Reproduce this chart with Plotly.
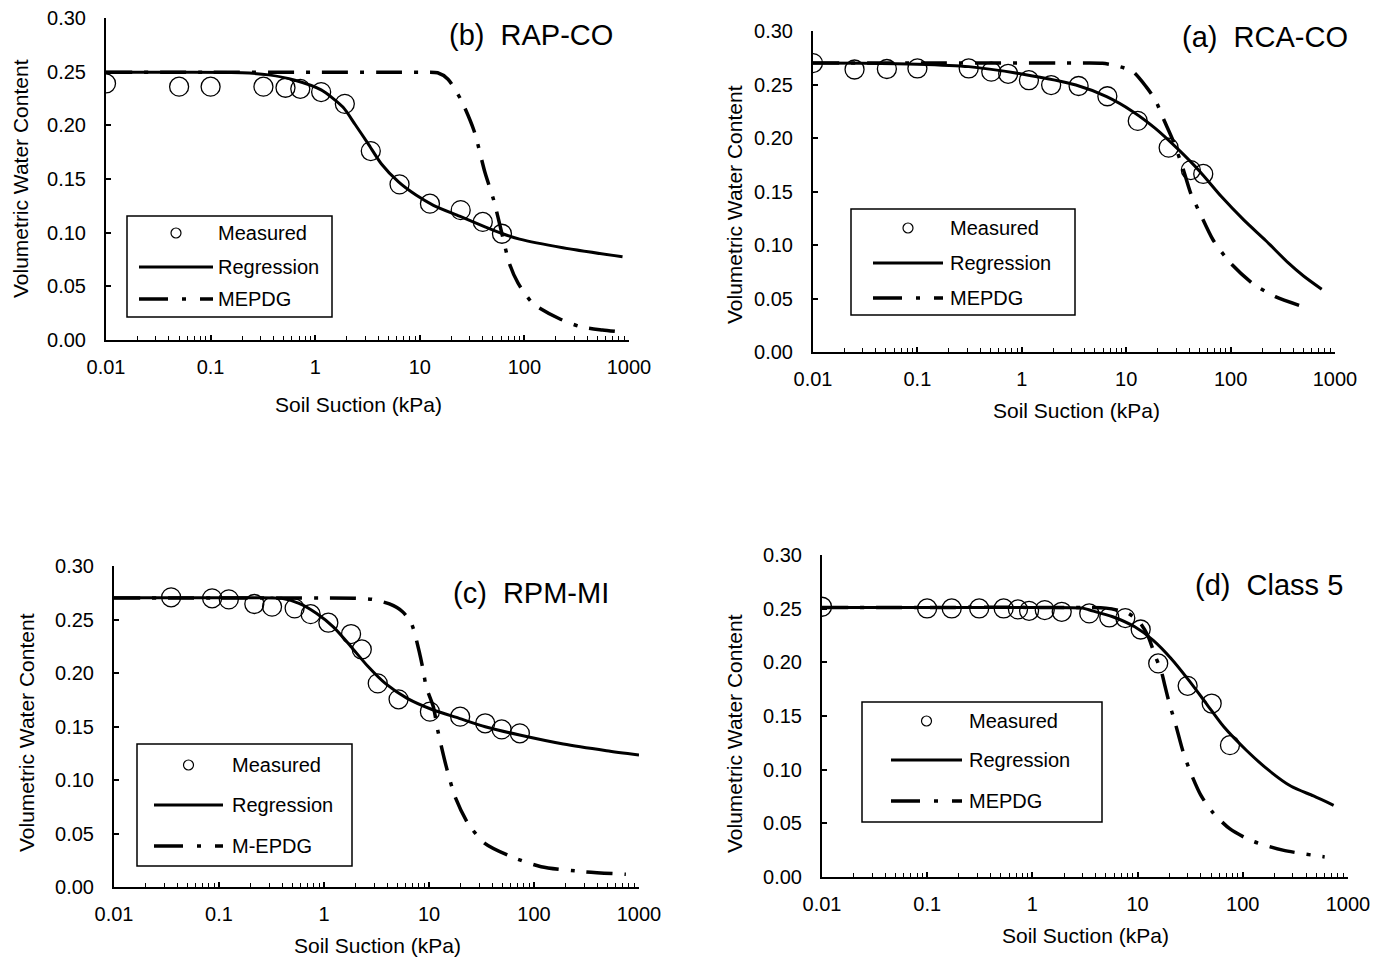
import plotly.graph_objects as go

W, H = 1387, 963
FONT = "Liberation Sans, Arial, sans-serif"

# ---------------- (a) RCA-CO ----------------
a_meas_x = [0.01, 0.025, 0.051, 0.10, 0.31, 0.51, 0.74, 1.17, 1.91, 3.5, 6.6, 12.9, 25.5, 41.6, 54.7]
a_meas_y = [0.270, 0.264, 0.2645, 0.265, 0.265, 0.262, 0.260, 0.254, 0.2495, 0.2486, 0.239, 0.216, 0.191, 0.170, 0.1664]
a_reg_x = [0.01, 0.03, 0.1, 0.31, 1.0, 3.3, 6.5, 11.6, 19, 31, 51, 82, 135, 218, 355, 500, 746]
a_reg_y = [0.270, 0.2698, 0.269, 0.2667, 0.2598, 0.2495, 0.2386, 0.2246, 0.209, 0.190, 0.1685, 0.145, 0.123, 0.104, 0.0835, 0.071, 0.0586]
a_mep_x = [0.01, 0.1, 1, 3, 5.9, 8.7, 11.6, 15.5, 19, 23, 28, 34.6, 41.6, 51, 68, 100, 163, 268, 556]
a_mep_y = [0.270, 0.270, 0.270, 0.270, 0.2698, 0.2667, 0.262, 0.248, 0.2355, 0.2168, 0.198, 0.173, 0.148, 0.1296, 0.1047, 0.083, 0.064, 0.0517, 0.0408]

# ---------------- (b) RAP-CO ----------------
b_meas_x = [0.01, 0.05, 0.1, 0.32, 0.52, 0.72, 1.14, 1.92, 3.4, 6.4, 12.5, 24.6, 40, 61]
b_meas_y = [0.239, 0.236, 0.236, 0.236, 0.235, 0.234, 0.231, 0.220, 0.176, 0.145, 0.127, 0.121, 0.110, 0.099]
b_reg_x = [0.01, 0.05, 0.2, 0.36, 0.64, 1.14, 1.84, 2.4, 3.2, 4.3, 6.3, 9.2, 13.5, 24, 42, 62, 90, 233, 867]
b_reg_y = [0.2495, 0.2494, 0.249, 0.247, 0.242, 0.233, 0.217, 0.201, 0.183, 0.164, 0.147, 0.135, 0.1255, 0.1153, 0.1054, 0.099, 0.094, 0.086, 0.0775]
b_mep_x = [0.01, 0.1, 1, 5, 10, 14.8, 18.6, 25, 33, 42, 51, 61, 72, 87, 121, 214, 344, 557, 740]
b_mep_y = [0.2495, 0.2495, 0.2495, 0.2495, 0.2494, 0.249, 0.243, 0.223, 0.195, 0.156, 0.130, 0.099, 0.071, 0.053, 0.034, 0.020, 0.0124, 0.0093, 0.0080]

# ---------------- (c) RPM-MI ----------------
c_meas_x = [0.035, 0.086, 0.124, 0.217, 0.32, 0.525, 0.746, 1.10, 1.81, 2.29, 3.25, 5.13, 10.2, 19.8, 34.3, 49.2, 73.3]
c_meas_y = [0.2707, 0.2698, 0.2688, 0.2645, 0.262, 0.2604, 0.255, 0.247, 0.2364, 0.222, 0.1903, 0.1754, 0.1639, 0.1592, 0.153, 0.1473, 0.1436]
c_reg_x = [0.01, 0.05, 0.15, 0.395, 0.578, 0.845, 1.24, 1.81, 2.63, 3.86, 6.2, 11, 19.4, 34.3, 73, 190, 490, 1000]
c_reg_y = [0.2704, 0.2704, 0.2703, 0.2698, 0.265, 0.2558, 0.2427, 0.2246, 0.206, 0.190, 0.1763, 0.1654, 0.1576, 0.1498, 0.142, 0.1336, 0.1274, 0.1234]
c_mep_x = [0.01, 0.1, 0.5, 1.0, 1.99, 2.9, 4.2, 5.6, 6.8, 8.2, 8.9, 9.4, 11, 12.1, 14.6, 17.7, 23.5, 34, 61, 117, 300, 750]
c_mep_y = [0.270, 0.270, 0.270, 0.270, 0.2698, 0.2688, 0.2645, 0.2573, 0.2464, 0.217, 0.200, 0.187, 0.1685, 0.1467, 0.1125, 0.0844, 0.0595, 0.0408, 0.0283, 0.019, 0.0143, 0.0118]

# ---------------- (d) Class 5 ----------------
d_meas_x = [0.01, 0.0998, 0.171, 0.312, 0.533, 0.729, 0.93, 1.31, 1.90, 3.47, 5.38, 7.64, 10.7, 15.7, 29.9, 50.6, 75.5]
d_meas_y = [0.2518, 0.2502, 0.2502, 0.2502, 0.2502, 0.2493, 0.248, 0.2487, 0.2471, 0.2456, 0.2418, 0.2412, 0.2306, 0.199, 0.1781, 0.1616, 0.1228]
d_reg_x = [0.01, 0.1, 1.0, 3.0, 3.5, 5.8, 9.4, 14, 20.8, 30.6, 45, 66, 108, 176, 288, 470, 730]
d_reg_y = [0.2512, 0.2512, 0.2511, 0.2505, 0.2487, 0.2425, 0.2331, 0.2207, 0.2036, 0.1834, 0.1616, 0.1399, 0.1181, 0.0995, 0.0845, 0.0755, 0.0668]
d_mep_x = [0.01, 0.1, 1, 3, 5, 8, 10.5, 12.5, 14, 15, 16, 17, 18, 20, 23, 27, 32, 40, 52, 75, 120, 240, 600]
d_mep_y = [0.2512, 0.2512, 0.2512, 0.2511, 0.2505, 0.246, 0.237, 0.225, 0.212, 0.204, 0.197, 0.190, 0.180, 0.162, 0.142, 0.117, 0.097, 0.076, 0.060, 0.045, 0.034, 0.025, 0.0187]

x_tick_vals = [0.01, 0.1, 1, 10, 100, 1000]
x_tick_text = ["0.01", "0.1", "1", "10", "100", "1000"]
x_minor_vals = [k * 10.0 ** e for e in range(-2, 3) for k in range(2, 10)]
y_tick_vals = [0.00, 0.05, 0.10, 0.15, 0.20, 0.25, 0.30]

MEP_DASH = "26px,12px,4px,12px"


def px_x(p):
    return p / W


def px_y(p):
    return 1 - p / H


# plot-area boxes in pixels: left, right, top(0.30), bottom(0.00)
panels = [
    dict(name="a", box=(813, 1335, 31, 352), title="(a)\u00a0 RCA-CO", title_xy=(1265, 37),
         mx=a_meas_x, my=a_meas_y, rx=a_reg_x, ry=a_reg_y, ex=a_mep_x, ey=a_mep_y,
         mep_name="MEPDG", ytitle_xy=(734, 205), xtitle_xy=(1076, 411),
         leg_box=(851, 1075, 209, 315), leg_rows=(228, 263, 298), leg_sample=(873, 943), leg_text=948),
    dict(name="b", box=(106, 629, 18, 340), title="(b)\u00a0 RAP-CO", title_xy=(531, 35),
         mx=b_meas_x, my=b_meas_y, rx=b_reg_x, ry=b_reg_y, ex=b_mep_x, ey=b_mep_y,
         mep_name="MEPDG", ytitle_xy=(20, 179), xtitle_xy=(358, 404),
         leg_box=(127, 332, 216, 317), leg_rows=(233, 267, 299), leg_sample=(139, 213), leg_text=216),
    dict(name="c", box=(114, 639, 566, 887), title="(c)\u00a0 RPM-MI", title_xy=(531, 593),
         mx=c_meas_x, my=c_meas_y, rx=c_reg_x, ry=c_reg_y, ex=c_mep_x, ey=c_mep_y,
         mep_name="M-EPDG", ytitle_xy=(26, 733), xtitle_xy=(377, 945),
         leg_box=(137, 352, 744, 866), leg_rows=(765, 805, 846), leg_sample=(154, 223), leg_text=230),
    dict(name="d", box=(822, 1348, 555, 877), title="(d)\u00a0 Class 5", title_xy=(1269, 585),
         mx=d_meas_x, my=d_meas_y, rx=d_reg_x, ry=d_reg_y, ex=d_mep_x, ey=d_mep_y,
         mep_name="MEPDG", ytitle_xy=(734, 734), xtitle_xy=(1085, 935),
         leg_box=(862, 1102, 702, 822), leg_rows=(721, 760, 801), leg_sample=(891, 962), leg_text=967),
]

fig = go.Figure()
layout = dict(
    width=W, height=H, autosize=False,
    margin=dict(l=0, r=0, t=0, b=0, pad=0, autoexpand=False),
    paper_bgcolor="white", plot_bgcolor="white",
    showlegend=False,
    font=dict(family=FONT, size=20, color="black"),
)
annotations = []
shapes = []

for i, p in enumerate(panels, start=1):
    sfx = "" if i == 1 else str(i)
    xref, yref = "x" + sfx, "y" + sfx
    left, right, top, bottom = p["box"]

    layout["xaxis" + sfx] = dict(
        type="log", range=[-2, 3], domain=[px_x(left), px_x(right)],
        anchor=yref, showline=True, linecolor="black", linewidth=2,
        showgrid=False, zeroline=False, automargin=False,
        tickmode="array", tickvals=x_tick_vals, ticktext=x_tick_text,
        ticks="inside", ticklen=5, tickwidth=1.5, tickcolor="black",
        ticklabelstandoff=8,
        tickfont=dict(family=FONT, size=20, color="black"),
        minor=dict(tickmode="array", tickvals=x_minor_vals, ticks="inside",
                   ticklen=4, tickwidth=1.2, tickcolor="black", showgrid=False),
    )
    layout["yaxis" + sfx] = dict(
        range=[0, 0.30], domain=[px_y(bottom), px_y(top)],
        anchor=xref, showline=True, linecolor="black", linewidth=2,
        showgrid=False, zeroline=False, automargin=False,
        tickmode="array", tickvals=y_tick_vals, tickformat=".2f",
        ticks="inside", ticklen=5, tickwidth=1.5, tickcolor="black",
        ticklabelstandoff=14,
        tickfont=dict(family=FONT, size=20, color="black"),
    )

    fig.add_trace(go.Scatter(
        x=p["rx"], y=p["ry"], mode="lines", name="Regression",
        line=dict(color="black", width=3, shape="spline", smoothing=0.7),
        xaxis=xref, yaxis=yref))
    fig.add_trace(go.Scatter(
        x=p["ex"], y=p["ey"], mode="lines", name=p["mep_name"],
        line=dict(color="black", width=3.5, dash=MEP_DASH, shape="spline", smoothing=0.7),
        xaxis=xref, yaxis=yref))
    fig.add_trace(go.Scatter(
        x=p["mx"], y=p["my"], mode="markers", name="Measured",
        marker=dict(symbol="circle-open", size=19, color="black", line=dict(width=1.3)),
        xaxis=xref, yaxis=yref))

    # panel label
    tx, ty = p["title_xy"]
    annotations.append(dict(x=px_x(tx), y=px_y(ty), xref="paper", yref="paper",
                            text=p["title"], showarrow=False, xanchor="center", yanchor="middle",
                            font=dict(family=FONT, size=29, color="black")))
    # axis titles
    yx, yy = p["ytitle_xy"]
    annotations.append(dict(x=px_x(yx), y=px_y(yy), xref="paper", yref="paper",
                            text="Volumetric Water Content", textangle=-90, showarrow=False,
                            xanchor="center", yanchor="middle",
                            font=dict(family=FONT, size=21, color="black")))
    xx, xy = p["xtitle_xy"]
    annotations.append(dict(x=px_x(xx), y=px_y(xy), xref="paper", yref="paper",
                            text="Soil Suction (kPa)", showarrow=False,
                            xanchor="center", yanchor="middle",
                            font=dict(family=FONT, size=21, color="black")))

    # legend box
    l0, l1, t0, t1 = p["leg_box"]
    shapes.append(dict(type="rect", xref="paper", yref="paper",
                       x0=px_x(l0), x1=px_x(l1), y0=px_y(t1), y1=px_y(t0),
                       line=dict(color="black", width=1.5), fillcolor="white", layer="above"))
    r_meas, r_reg, r_mep = p["leg_rows"]
    s0, s1 = p["leg_sample"]
    cx = (s0 + s1) / 2
    shapes.append(dict(type="circle", xref="paper", yref="paper",
                       x0=px_x(cx - 5), x1=px_x(cx + 5), y0=px_y(r_meas + 5), y1=px_y(r_meas - 5),
                       line=dict(color="black", width=1.2), layer="above"))
    shapes.append(dict(type="line", xref="paper", yref="paper",
                       x0=px_x(s0), x1=px_x(s1), y0=px_y(r_reg), y1=px_y(r_reg),
                       line=dict(color="black", width=3), layer="above"))
    shapes.append(dict(type="line", xref="paper", yref="paper",
                       x0=px_x(s0), x1=px_x(s1), y0=px_y(r_mep), y1=px_y(r_mep),
                       line=dict(color="black", width=3.5, dash="29px,14px,4px,14px"), layer="above"))
    for row, label in ((r_meas, "Measured"), (r_reg, "Regression"), (r_mep, p["mep_name"])):
        annotations.append(dict(x=px_x(p["leg_text"]), y=px_y(row), xref="paper", yref="paper",
                                text=label, showarrow=False, xanchor="left", yanchor="middle",
                                font=dict(family=FONT, size=20, color="black")))

layout["annotations"] = annotations
layout["shapes"] = shapes
fig.update_layout(**layout)

fig.write_html("out.html")
